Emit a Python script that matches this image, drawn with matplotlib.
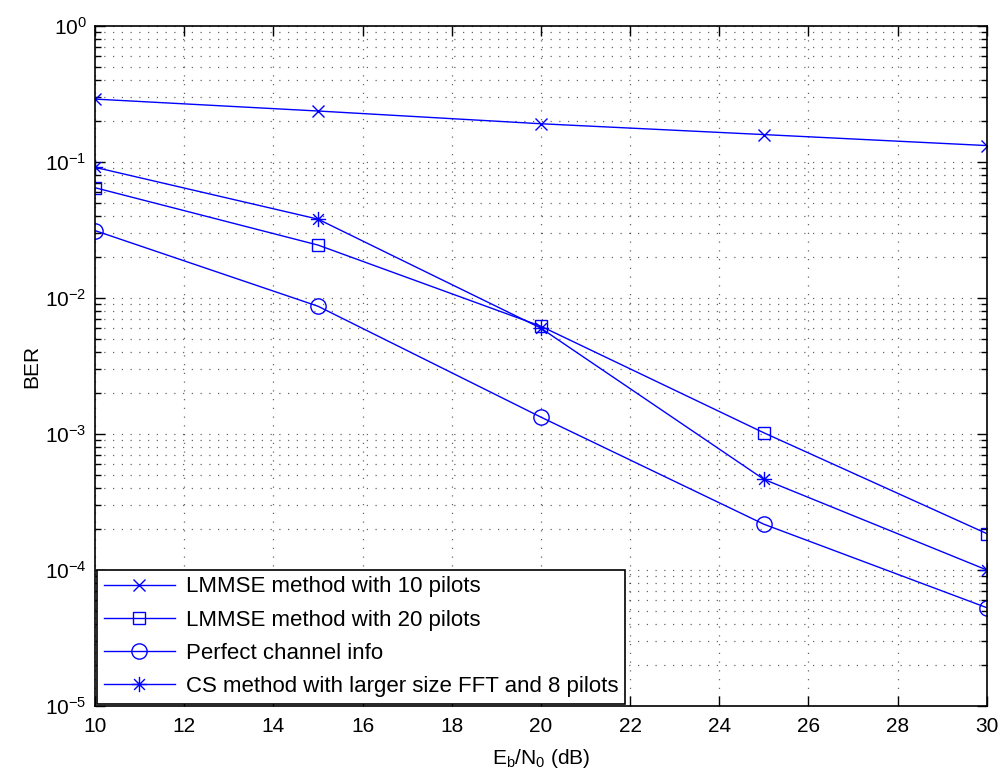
import matplotlib
matplotlib.use("Agg")
import matplotlib.pyplot as plt
from matplotlib.path import Path
from matplotlib.ticker import LogLocator, NullFormatter, LogFormatterSciNotation

plt.rcParams['font.family'] = ['Liberation Sans', 'DejaVu Sans']
plt.rcParams['mathtext.fontset'] = 'custom'
plt.rcParams['mathtext.rm'] = 'Liberation Sans'
plt.rcParams['mathtext.it'] = 'Liberation Sans:italic'
plt.rcParams['mathtext.default'] = 'regular'

snr = [10, 15, 20, 25, 30]
ber_lmmse10 = [0.29, 0.237, 0.191, 0.159, 0.132]
ber_lmmse20 = [0.0647, 0.0245, 0.0062, 0.00102, 0.000185]
ber_perfect = [0.0313, 0.0087, 0.00133, 0.000217, 0.0000528]
ber_cs = [0.0914, 0.038, 0.006, 0.000464, 0.0001]

labels = ['LMMSE method with 10 pilots', 'LMMSE method with 20 pilots',
          'Perfect channel info', 'CS method with larger size FFT and 8 pilots']
xticks = [10, 12, 14, 16, 18, 20, 22, 24, 26, 28, 30]

# MATLAB-style asterisk marker (line segments only)
d = 0.7071
asterisk = Path([(-1, 0), (1, 0), (0, -1), (0, 1), (-d, -d), (d, d), (-d, d), (d, -d)],
                [Path.MOVETO, Path.LINETO] * 4)

fig = plt.figure(figsize=(10.07, 7.8), dpi=100)
ax = fig.add_axes([0.0943, 0.0949, 0.8857, 0.8718])

blue = (0, 0, 1)
ax.semilogy(snr, ber_lmmse10, '-x', color=blue, lw=1, ms=9, mew=1, label=labels[0])
ax.semilogy(snr, ber_lmmse20, '-s', color=blue, lw=1, ms=9, mew=1, mfc='none', label=labels[1])
ax.semilogy(snr, ber_perfect, '-o', color=blue, lw=1, ms=11, mew=1, mfc='none', label=labels[2])
ax.semilogy(snr, ber_cs, '-', marker=asterisk, color=blue, lw=1, ms=11, mew=1, mfc='none', label=labels[3])

ax.set_xlim(10, 30)
ax.set_ylim(1e-5, 1)
ax.set_xticks(xticks)
ax.set_xticklabels([str(t) for t in xticks])
ax.yaxis.set_major_locator(LogLocator(base=10, numticks=10))
ax.yaxis.set_minor_locator(LogLocator(base=10, subs=range(2, 10), numticks=100))
ax.yaxis.set_major_formatter(LogFormatterSciNotation())
ax.yaxis.set_minor_formatter(NullFormatter())

gstyle = dict(linestyle=(0, (1, 6)), color='black', linewidth=0.9, alpha=0.6)
ax.grid(True, which='major', axis='both', **gstyle)
ax.grid(True, which='minor', axis='y', **gstyle)

ax.tick_params(which='both', direction='in', top=True, right=True, labelsize=15, width=1)
ax.tick_params(which='major', length=7)
ax.tick_params(which='minor', length=4)
ax.tick_params(axis='x', pad=8)
ax.tick_params(axis='y', pad=6)
for s in ax.spines.values():
    s.set_linewidth(1.2)

ax.set_xlabel('$E_b/N_0$ (dB)', fontsize=15, labelpad=8)
ax.set_ylabel('BER', fontsize=15, labelpad=3)

leg = ax.legend(loc='lower left', bbox_to_anchor=(0, 0), borderaxespad=0.1, fontsize=16,
                handlelength=3.2, handletextpad=0.5, labelspacing=0.55, fancybox=False,
                framealpha=1, edgecolor='black', borderpad=0.3)
leg.get_frame().set_linewidth(1.2)

fig.savefig('out.png', dpi=100)
